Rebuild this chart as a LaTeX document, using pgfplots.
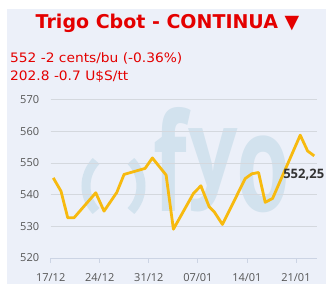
\documentclass[border=0pt]{standalone}
\usepackage{pgfplots}
\pgfplotsset{compat=1.18}
\usepackage{fontspec}
\setmainfont{DejaVu Sans}
\newfontfamily\verd{DejaVu Sans}[FakeStretch=1.06]
\newfontfamily\ticksfont{Open Sans}
\newfontfamily\wmfont{Open Sans Bold}
\definecolor{panel}{RGB}{236,240,249}
\definecolor{titlered}{RGB}{228,0,0}
\definecolor{tickgray}{RGB}{85,85,85}
\definecolor{gridgray}{RGB}{212,216,222}
\definecolor{axisgray}{RGB}{204,212,228}
\definecolor{lineyellow}{RGB}{247,186,15}
\definecolor{wm}{RGB}{210,226,238}
\definecolor{labeldark}{RGB}{51,51,51}
\begin{document}
\begin{tikzpicture}
\useasboundingbox (0pt,0pt) rectangle (333pt,291pt);
\fill[white] (0pt,0pt) rectangle (333pt,291pt);
\fill[panel] (7pt,7pt) rectangle (326pt,282pt);
\node[font=\fontsize{19}{19}\selectfont\bfseries, text=titlered] at (167.5pt,268pt) {Trigo Cbot - CONTINUA ▼};
\node[anchor=west, inner sep=0pt, font=\verd\fontsize{13}{13}\selectfont, text=titlered] at (10pt,233pt) {552 -2 cents/bu (-0.36\%)};
\node[anchor=west, inner sep=0pt, font=\verd\fontsize{13}{13}\selectfont, text=titlered] at (10pt,214pt) {202.8 -0.7 U\$S/tt};
% watermark
\begin{scope}
\clip (7pt,7pt) rectangle (326pt,282pt);
\node[anchor=base west, inner sep=0pt, text=wm, font=\wmfont\fontsize{136}{136}\selectfont, xscale=0.64] at (153pt,79pt) {f};
\node[anchor=south west, inner sep=0pt, text=wm, font=\wmfont\fontsize{136}{136}\selectfont, xscale=0.64, yscale=0.78] at (188pt,79pt) {y};
\node[anchor=base west, inner sep=0pt, text=wm, font=\wmfont\fontsize{136}{136}\selectfont, xscale=0.64] at (236pt,79pt) {o};
\draw[wm, line width=9pt] ([shift={(136:36pt)}]122pt,105pt) arc[start angle=136, end angle=224, radius=36pt];
\draw[wm, line width=9pt] ([shift={(-44:36pt)}]105pt,105pt) arc[start angle=-44, end angle=44, radius=36pt];
\end{scope}
\begin{axis}[
  at={(50.7pt,33pt)}, anchor=south west, scale only axis,
  width=266.3pt, height=158.3pt,
  xmin=0, xmax=38, ymin=520, ymax=570,
  ytick={520,530,...,570},
  xtick={0,7,14,21,28,35},
  xticklabels={17/12,24/12,31/12,07/01,14/01,21/01},
  axis x line*=bottom, axis y line*=left,
  y axis line style={draw=none},
  x axis line style={draw=axisgray, line width=0.8pt, -},
  ymajorgrids, grid style={draw=gridgray, line width=0.8pt},
  ytick style={draw=none},
  xtick style={draw=axisgray, line width=0.8pt},
  xtick align=outside, major tick length=5pt,
  /pgf/number format/assume math mode=true,
  ticklabel style={font=\ticksfont\fontsize{11}{11}\selectfont, text=tickgray},
  yticklabel style={anchor=east, inner sep=0pt, xshift=-11.4pt},
  xticklabel style={anchor=base, inner sep=0pt, yshift=-19pt},
  clip=false,
]
\addplot[color=lineyellow, line width=2.8pt, line join=round, mark=none] coordinates {
(0.37,545.3) (1.47,541.1) (2.43,532.7) (3.33,532.7) (6.43,540.6) (7.61,534.8)
(9.43,540.7) (10.47,546.4) (13.47,548.3) (14.51,551.6) (16.47,546.2) (17.51,529.1)
(20.37,540.4) (21.43,542.8) (22.61,536.2) (23.33,534.6) (24.51,530.6) (27.76,545.1)
(28.71,546.6) (29.66,547.0) (30.61,537.6) (31.66,538.8) (35.61,558.8) (36.66,553.8)
(37.61,552.25)
};
\node[font=\ticksfont\bfseries\fontsize{13}{13}\selectfont, text=labeldark, inner sep=0pt] at (axis cs:37.61,552.25) [xshift=-10.5pt, yshift=-19pt] {552,25};
\end{axis}
\end{tikzpicture}
\end{document}
